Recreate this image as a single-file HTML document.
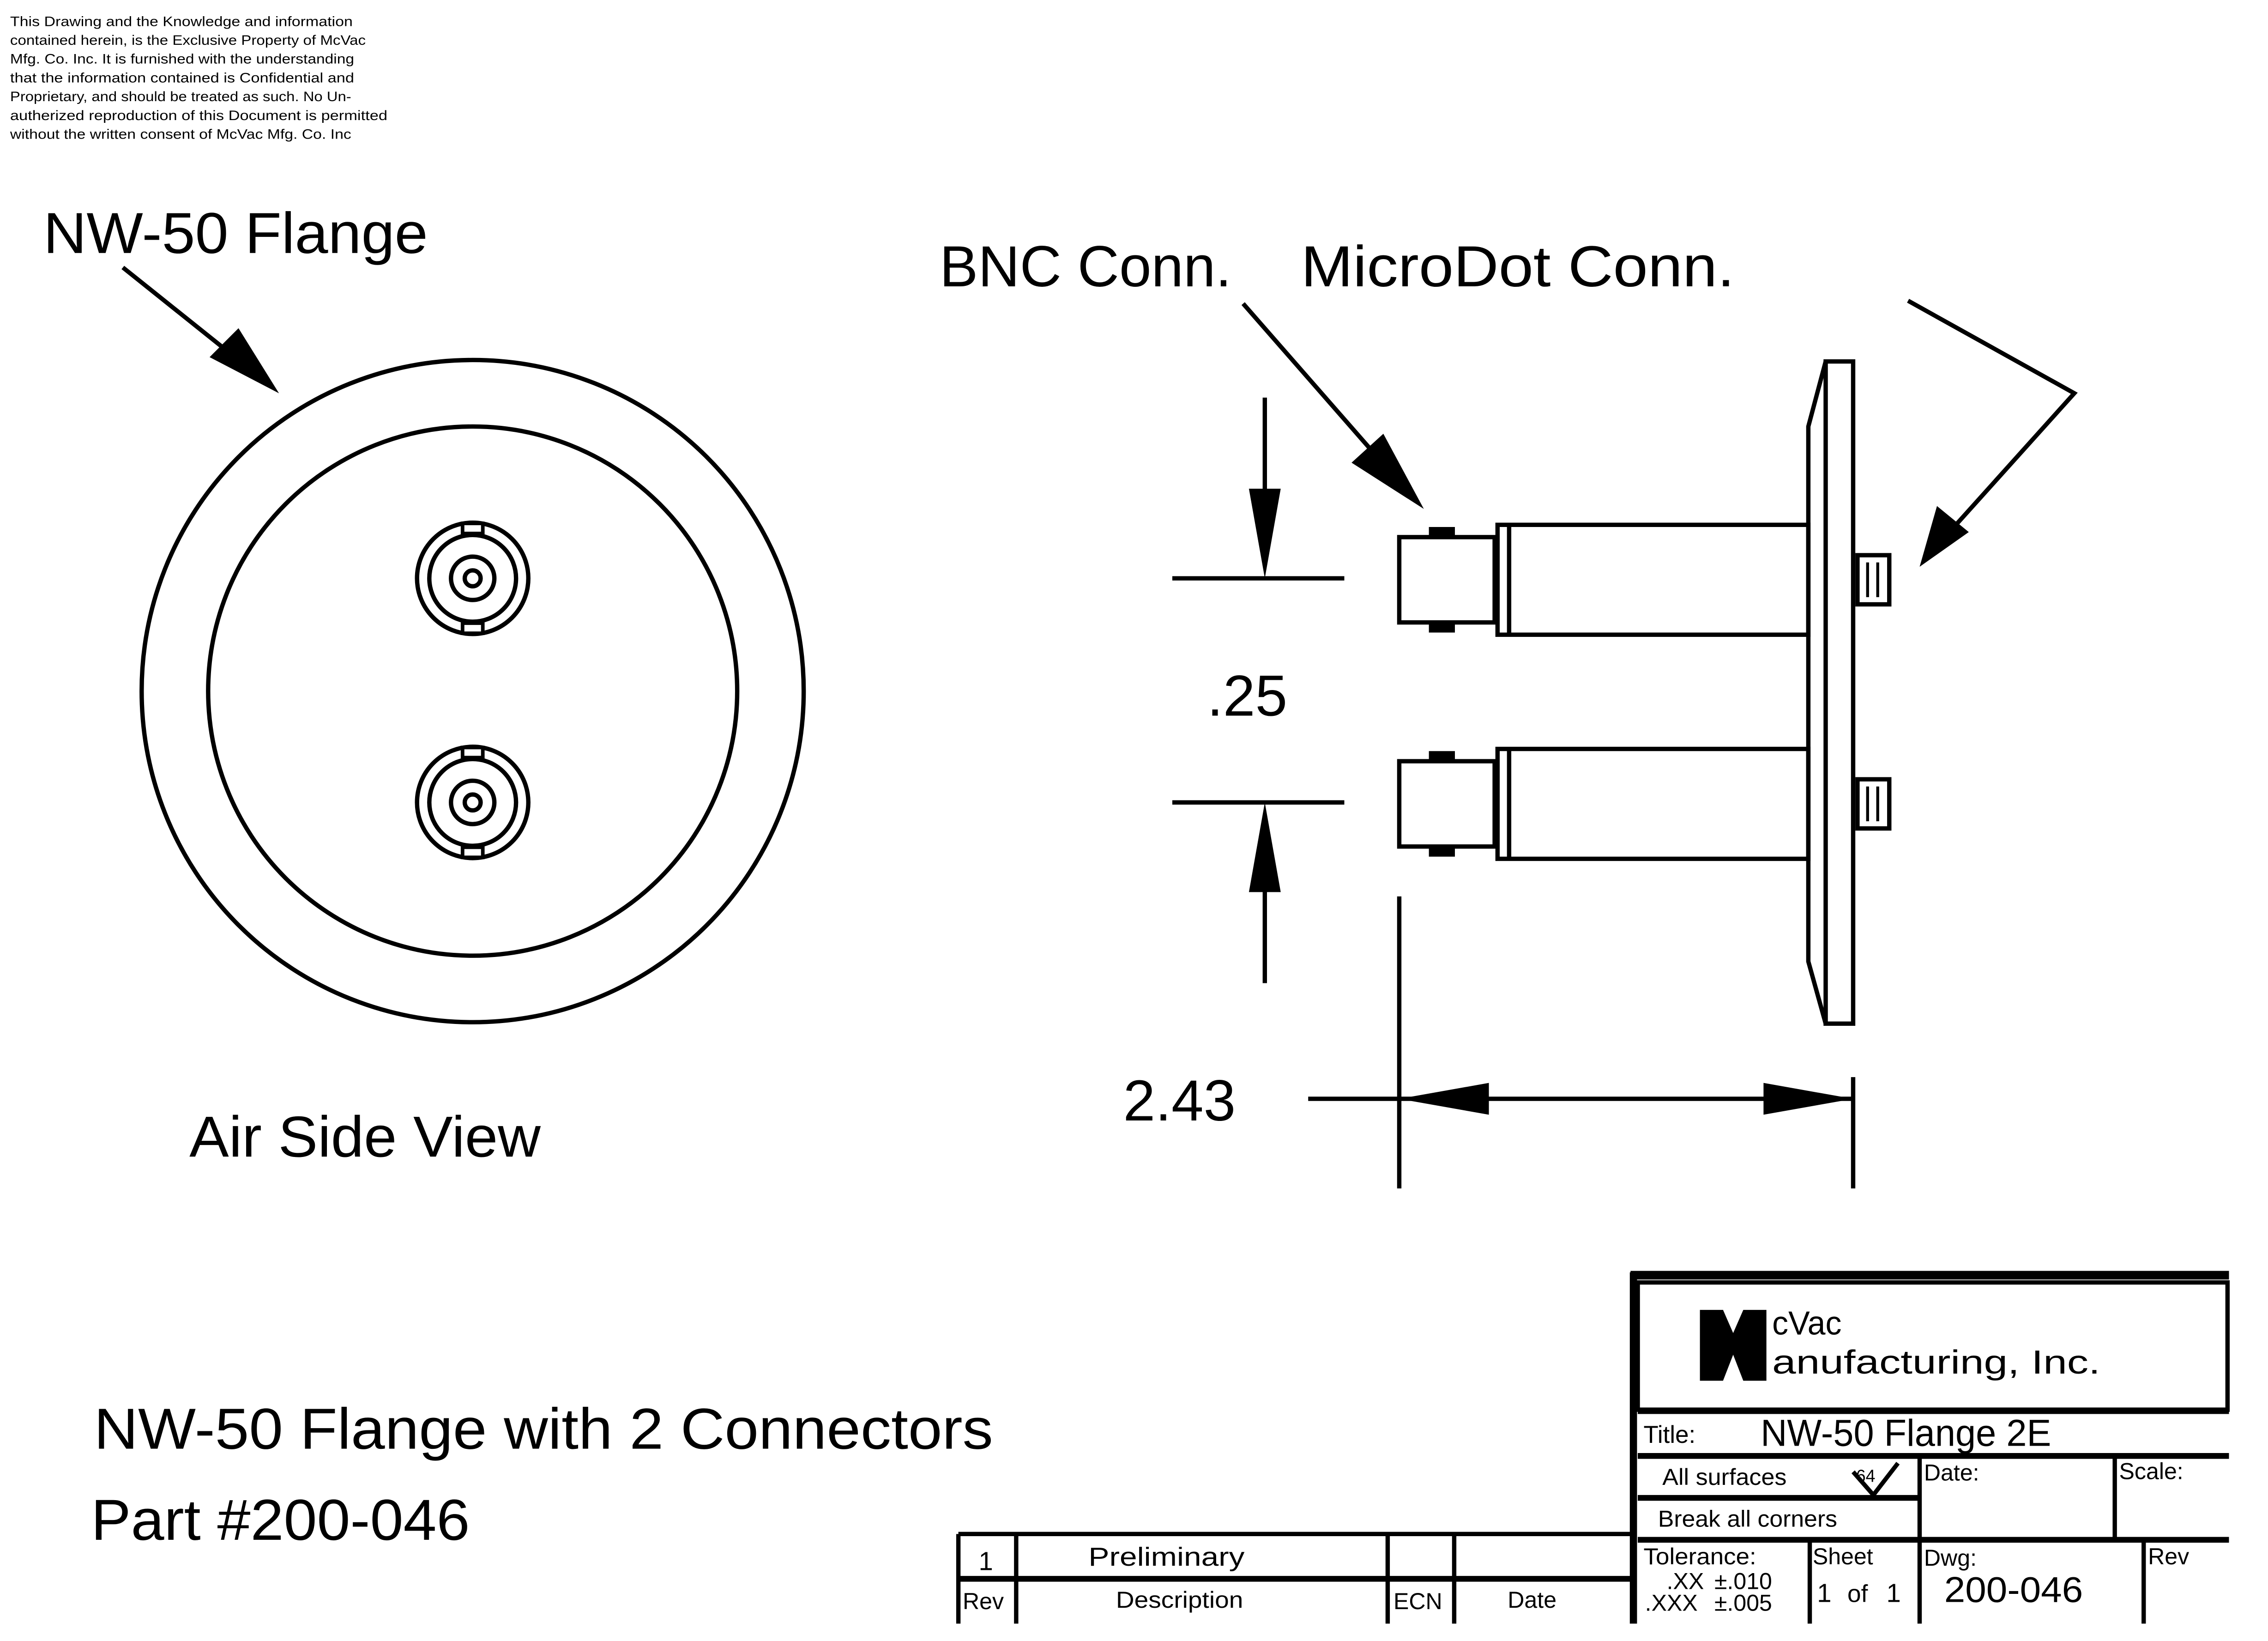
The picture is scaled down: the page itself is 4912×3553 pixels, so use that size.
<!DOCTYPE html>
<html><head><meta charset="utf-8"><style>html,body{margin:0;padding:0;background:#fff}svg{display:block}text{font-family:"Liberation Sans",sans-serif;fill:#000}</style></head>
<body>
<svg width="4912" height="3553" viewBox="0 0 1569 1135" preserveAspectRatio="none" xmlns="http://www.w3.org/2000/svg">
<rect width="1569" height="1135" fill="#fff"/>
<g font-size="9.5">
<text x="7" y="18" textLength="237" lengthAdjust="spacingAndGlyphs">This Drawing and the Knowledge and information</text>
<text x="7" y="31" textLength="246" lengthAdjust="spacingAndGlyphs">contained herein, is the Exclusive Property of McVac</text>
<text x="7" y="44" textLength="238" lengthAdjust="spacingAndGlyphs">Mfg. Co. Inc. It is furnished with the understanding</text>
<text x="7" y="57" textLength="238" lengthAdjust="spacingAndGlyphs">that the information contained is Confidential and</text>
<text x="7" y="70" textLength="236" lengthAdjust="spacingAndGlyphs">Proprietary, and should be treated as such. No Un-</text>
<text x="7" y="83" textLength="261" lengthAdjust="spacingAndGlyphs">autherized reproduction of this Document is permitted</text>
<text x="7" y="96" textLength="236" lengthAdjust="spacingAndGlyphs">without the written consent of McVac Mfg. Co. Inc</text>
</g>
<g font-size="40">
<text x="30" y="175" textLength="266" lengthAdjust="spacingAndGlyphs">NW-50 Flange</text>
<text x="131" y="800" textLength="243" lengthAdjust="spacingAndGlyphs">Air Side View</text>
<text x="650" y="198" textLength="202" lengthAdjust="spacingAndGlyphs">BNC Conn.</text>
<text x="900" y="198" textLength="300" lengthAdjust="spacingAndGlyphs">MicroDot Conn.</text>
<text x="835" y="495">.25</text>
<text x="777" y="775">2.43</text>
<text x="65" y="1002" textLength="622" lengthAdjust="spacingAndGlyphs">NW-50 Flange with 2 Connectors</text>
<text x="63" y="1065" textLength="262" lengthAdjust="spacingAndGlyphs">Part #200-046</text>
</g>
<g stroke="#000" fill="none" stroke-width="3">
<line x1="85" y1="185" x2="170" y2="253"/>
<circle cx="327" cy="478" r="229"/>
<circle cx="327" cy="478" r="183"/>
<g id="c1">
<circle cx="327" cy="400" r="38.5"/><circle cx="327" cy="400" r="30"/><circle cx="327" cy="400" r="15"/><circle cx="327" cy="400" r="5.5"/>
<rect x="320" y="362" width="14" height="7" fill="#fff" stroke-width="2.5"/>
<rect x="320" y="431" width="14" height="7" fill="#fff" stroke-width="2.5"/>
</g>
<use href="#c1" transform="translate(0,155)"/>
<rect x="1263" y="250" width="19" height="458"/>
<polyline points="1263,250 1251,295 1251,665 1263,708"/>
<g id="sc">
<rect x="1036" y="363" width="215" height="76"/>
<line x1="1044" y1="363" x2="1044" y2="439"/>
<rect x="968" y="371.5" width="66" height="59"/>
<rect x="990" y="366" width="15" height="5" fill="#000"/>
<rect x="990" y="431" width="15" height="5" fill="#000"/>
<rect x="1285" y="384" width="22" height="34"/>
<line x1="1292" y1="389" x2="1292" y2="413" stroke-width="2"/>
<line x1="1299" y1="389" x2="1299" y2="413" stroke-width="2"/>
</g>
<use href="#sc" transform="translate(0,155)"/>
<line x1="860" y1="210" x2="965" y2="330"/>
<polyline points="1320,208 1435,272 1345,372"/>
<line x1="811" y1="400" x2="930" y2="400"/>
<line x1="811" y1="555" x2="930" y2="555"/>
<line x1="875" y1="275" x2="875" y2="370"/>
<line x1="875" y1="585" x2="875" y2="680"/>
<line x1="968" y1="620" x2="968" y2="822"/>
<line x1="1282" y1="745" x2="1282" y2="822"/>
<line x1="905" y1="760" x2="1282" y2="760"/>
</g>
<g fill="#000">
<polygon points="193,272 145,247 165,227"/>
<polygon points="985,352 935,320 957,300"/>
<polygon points="1328,392 1340,350 1362,368"/>
<polygon points="875,400 864,338 886,338"/>
<polygon points="875,555 864,617 886,617"/>
<polygon points="968,760 1030,749 1030,771"/>
<polygon points="1282,760 1220,749 1220,771"/>
</g>
<g stroke="#000" fill="none" stroke-width="3">
<line x1="1128" y1="882" x2="1542" y2="882" stroke-width="6"/>
<line x1="1130" y1="880" x2="1130" y2="1123" stroke-width="5"/>
<rect x="1133" y="887" width="408" height="88"/>
<line x1="1133" y1="976" x2="1542" y2="976" stroke-width="4"/>
<line x1="1133" y1="1007" x2="1542" y2="1007" stroke-width="4"/>
<line x1="1133" y1="1036" x2="1328" y2="1036" stroke-width="4"/>
<line x1="1133" y1="1065" x2="1542" y2="1065" stroke-width="4"/>
<line x1="1328" y1="1007" x2="1328" y2="1123"/>
<line x1="1463" y1="1007" x2="1463" y2="1065"/>
<line x1="1252" y1="1065" x2="1252" y2="1123"/>
<line x1="1483" y1="1065" x2="1483" y2="1123"/>
<line x1="663" y1="1061" x2="1128" y2="1061"/>
<line x1="663" y1="1092" x2="1128" y2="1092" stroke-width="4"/>
<line x1="663" y1="1061" x2="663" y2="1123"/>
<line x1="703" y1="1061" x2="703" y2="1123"/>
<line x1="960" y1="1061" x2="960" y2="1123"/>
<line x1="1006" y1="1061" x2="1006" y2="1123"/>
<polyline points="1282,1018 1296,1034 1313,1012" stroke-width="3"/>
</g>
<polygon points="1176,906 1192,906 1199,922 1206,906 1222,906 1222,955 1206,955 1199,937 1192,955 1176,955" fill="#000"/>
<g font-size="23"><text x="1226" y="923" textLength="48" lengthAdjust="spacingAndGlyphs">cVac</text><text x="1226" y="950" textLength="227" lengthAdjust="spacingAndGlyphs">anufacturing, Inc.</text></g>
<text x="1137" y="998" font-size="17" textLength="36" lengthAdjust="spacingAndGlyphs">Title:</text>
<text x="1218" y="1000" font-size="26" textLength="201" lengthAdjust="spacingAndGlyphs">NW-50 Flange 2E</text>
<g font-size="16">
<text x="1150" y="1027" textLength="86" lengthAdjust="spacingAndGlyphs">All surfaces</text>
<text x="1284" y="1025" font-size="12">64</text>
<text x="1147" y="1056" textLength="124" lengthAdjust="spacingAndGlyphs">Break all corners</text>
<text x="1331" y="1024">Date:</text>
<text x="1466" y="1023">Scale:</text>
<text x="1137" y="1082" textLength="78" lengthAdjust="spacingAndGlyphs">Tolerance:</text>
<text x="1153" y="1099">.XX</text><text x="1186" y="1099">±.010</text>
<text x="1138" y="1114">.XXX</text><text x="1186" y="1114">±.005</text>
<text x="1254" y="1082">Sheet</text>
<text x="1257" y="1108" font-size="18">1</text><text x="1278" y="1108" font-size="17">of</text><text x="1305" y="1108" font-size="18">1</text>
<text x="1331" y="1083">Dwg:</text>
<text x="1345" y="1108" font-size="25" textLength="96" lengthAdjust="spacingAndGlyphs">200-046</text>
<text x="1486" y="1082">Rev</text>
</g>
<g font-size="18">
<text x="677" y="1086">1</text>
<text x="753" y="1083" textLength="108" lengthAdjust="spacingAndGlyphs">Preliminary</text>
<text x="666" y="1113" font-size="16">Rev</text>
<text x="772" y="1112" font-size="16" textLength="88" lengthAdjust="spacingAndGlyphs">Description</text>
<text x="964" y="1113" font-size="16">ECN</text>
<text x="1043" y="1112" font-size="16">Date</text>
</g>
</svg>
</body></html>
